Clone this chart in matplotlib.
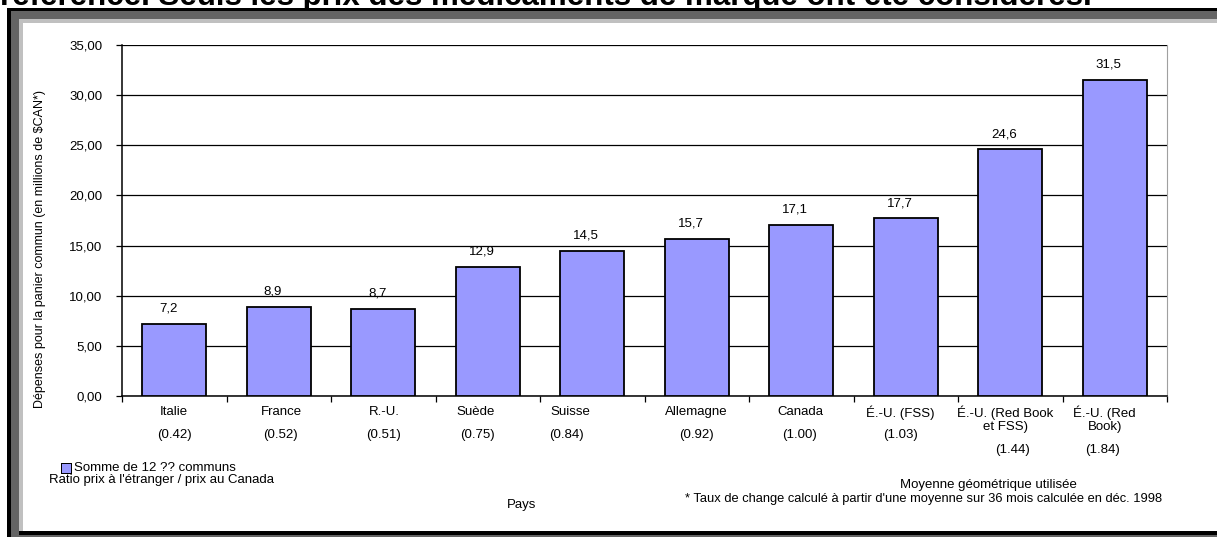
import matplotlib.pyplot as plt
from matplotlib.patches import Rectangle

plt.rcParams['font.family'] = ['Liberation Sans', 'DejaVu Sans']

pays = ['Italie', 'France', 'R.-U.', 'Suède', 'Suisse', 'Allemagne', 'Canada',
        'É.-U. (FSS)', 'É.-U. (Red Book\net FSS)', 'É.-U. (Red\nBook)']
ratios = ['(0.42)', '(0.52)', '(0.51)', '(0.75)', '(0.84)', '(0.92)', '(1.00)',
          '(1.03)', '(1.44)', '(1.84)']
depenses = [7.2, 8.9, 8.7, 12.9, 14.5, 15.7, 17.1, 17.7, 24.6, 31.5]
yticks = [0, 5, 10, 15, 20, 25, 30, 35]

# small nudges of the category labels (pixels), as laid out in the original
name_dx = [0, 3, 1, -12, -22, 0, -1, -6, -5, -10]
ratio_dx = [0, 2, 0, -10, -26, 0, -2, -5, 2, -12]

W, H = 1217, 537
fig = plt.figure(figsize=(W / 100, H / 100), dpi=100)


def box(x0, y0, x1, y1, color, z=-5):
    # rectangle in pixel coords (origin top-left)
    fig.patches.append(Rectangle((x0 / W, 1 - y1 / H), (x1 - x0) / W, (y1 - y0) / H,
                                 transform=fig.transFigure, color=color, lw=0, zorder=z))


# window-like frame
box(7, 8, W, H, 'black')
box(11, 11, W, H, '#646464')
box(19, 19, W, 535, '#c0c0c0')
box(19, 531, W, 535, 'black')
box(23, 23, W, 531, 'white')

# clipped caption line from the page above
fig.text(0 / W, 1 - 5 / H, "référence. Seuls les prix des médicaments de marque ont été considérés.",
         fontsize=22.5, fontweight='bold', ha='left', va='baseline', zorder=-6)

ax = fig.add_axes([122 / W, 1 - 396 / H, 1045 / W, 351 / H])
ax.set_facecolor('white')
x = list(range(len(pays)))
ax.bar(x, depenses, width=0.61, color='#9999ff', edgecolor='black', linewidth=1.3, zorder=3)
for xi, v in zip(x, depenses):
    ax.annotate(f'{v:.1f}'.replace('.', ','), (xi, v), xytext=(-4.3, 11), textcoords='offset points',
                ha='center', va='center', fontsize=9.5)

ax.set_xlim(-0.5, len(pays) - 0.5)
ax.set_ylim(0, 35)
ax.set_yticks(yticks)
ax.set_yticklabels([f'{t:.2f}'.replace('.', ',') for t in yticks], fontsize=9.5)
ax.yaxis.grid(True, color='black', lw=0.9, zorder=0)
ax.set_axisbelow(True)
ax.set_xticks([i - 0.5 for i in range(len(pays) + 1)])
ax.set_xticklabels([])
ax.tick_params(axis='x', direction='out', length=4, width=0.9)
ax.tick_params(axis='y', direction='out', length=4, width=0.9, pad=10)
ax.spines['top'].set_visible(False)
ax.spines['right'].set_color('#a0a0a0')
ax.spines['left'].set_linewidth(1.1)
ax.spines['bottom'].set_linewidth(1.1)

px = 1045 / len(pays)
for i in x:
    cx = 122 + px * (i + 0.5)
    fig.text((cx + name_dx[i]) / W, 1 - 406 / H, pays[i], ha='center', va='top', fontsize=9.5,
             linespacing=1.1)
    ry = 444 if '\n' in pays[i] else 429
    fig.text((cx + ratio_dx[i]) / W, 1 - ry / H, ratios[i], ha='center', va='top', fontsize=9.5)

fig.text(40 / W, 1 - 249 / H, 'Dépenses pour la panier commun (en millions de $CAN*)',
         rotation=90, ha='center', va='center', fontsize=9)

# legend area
box(61, 463, 72, 474, 'black', z=5)
box(62, 464, 71, 473, '#9999ff', z=6)
fig.text(74 / W, 1 - 468 / H, 'Somme de 12 ?? communs', ha='left', va='center', fontsize=9.5)
fig.text(49 / W, 1 - 480 / H, "Ratio prix à l'étranger / prix au Canada", ha='left', va='center', fontsize=9.5)
fig.text(522 / W, 1 - 505 / H, 'Pays', ha='center', va='center', fontsize=9.5)
fig.text(988 / W, 1 - 485 / H, 'Moyenne géométrique utilisée', ha='center', va='center', fontsize=9.5)
fig.text(924 / W, 1 - 499 / H,
         "* Taux de change calculé à partir d'une moyenne sur 36 mois calculée en déc. 1998",
         ha='center', va='center', fontsize=9.3)

fig.savefig('out.png', dpi=100)
